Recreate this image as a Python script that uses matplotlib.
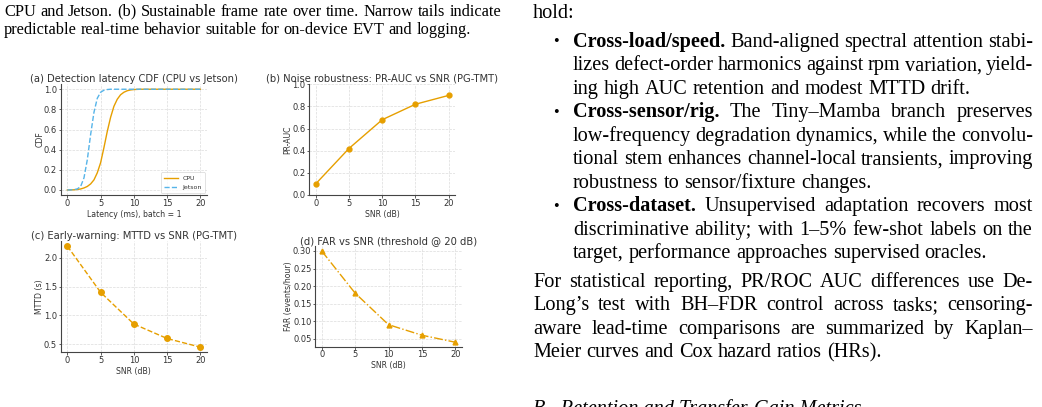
import matplotlib
matplotlib.use("Agg")
import matplotlib.pyplot as plt

W, H = 1042, 407

# ---------------- data ----------------
latency_ms = [0, 0.5, 1, 1.5, 2, 2.5, 3, 3.5, 4, 4.5, 5, 5.5, 6, 6.5, 7, 7.5, 8, 8.5, 9, 9.5, 10, 11, 12, 20]
cdf_cpu = [0, 0.001, 0.002, 0.005, 0.01, 0.02, 0.035, 0.06, 0.10, 0.17, 0.27, 0.42, 0.58, 0.72, 0.83,
           0.90, 0.945, 0.97, 0.985, 0.993, 0.997, 1.0, 1.0, 1.0]
cdf_jetson = [0, 0.001, 0.003, 0.01, 0.035, 0.12, 0.30, 0.55, 0.77, 0.91, 0.97, 0.99, 0.997, 1.0, 1.0,
              1.0, 1.0, 1.0, 1.0, 1.0, 1.0, 1.0, 1.0, 1.0]
snr_db = [0, 5, 10, 15, 20]
pr_auc = [0.10, 0.42, 0.68, 0.82, 0.90]
mttd_s = [2.2, 1.4, 0.85, 0.6, 0.45]
far_per_hour = [0.30, 0.18, 0.09, 0.06, 0.04]

titles = ["(a) Detection latency CDF (CPU vs Jetson)",
          "(b) Noise robustness: PR-AUC vs SNR (PG-TMT)",
          "(c) Early-warning: MTTD vs SNR (PG-TMT)",
          "(d) FAR vs SNR (threshold @ 20 dB)"]

caption_lines = [
    ("CPU and Jetson. (b) Sustainable frame rate over time. Narrow tails indicate", True),
    ("predictable real-time behavior suitable for on-device EVT and logging.", False),
]
body_intro = "hold:"
bullet_lines = [
    ("Cross-load/speed.", "Band-aligned spectral attention stabi-", True),
    (None, "lizes defect-order harmonics against rpm variation, yield-", True),
    (None, "ing high AUC retention and modest MTTD drift.", False),
    ("Cross-sensor/rig.", "The Tiny\u2013Mamba branch preserves", True),
    (None, "low-frequency degradation dynamics, while the convolu-", True),
    (None, "tional stem enhances channel-local transients, improving", True),
    (None, "robustness to sensor/fixture changes.", False),
    ("Cross-dataset.", "Unsupervised adaptation recovers most", True),
    (None, "discriminative ability; with 1\u20135% few-shot labels on the", True),
    (None, "target, performance approaches supervised oracles.", False),
]
para_lines = [
    ("For statistical reporting, PR/ROC AUC differences use De-", True),
    ("Long\u2019s test with BH\u2013FDR control across tasks; censoring-", True),
    ("aware lead-time comparisons are summarized by Kaplan\u2013", True),
    ("Meier curves and Cox hazard ratios (HRs).", False),
]
section_title = "B.  Retention and Transfer-Gain Metrics"

ORANGE = "#E69F00"
BLUE = "#56B4E9"
TXT = "#333333"

fig = plt.figure(figsize=(W / 100, H / 100), dpi=100)
fig.patch.set_facecolor("white")


def add_ax(left, right, top, bottom):
    return fig.add_axes([left / W, 1 - bottom / H, (right - left) / W, (bottom - top) / H])


def style(ax):
    for s in ["top", "right"]:
        ax.spines[s].set_visible(False)
    for s in ["left", "bottom"]:
        ax.spines[s].set_color("#444444")
        ax.spines[s].set_linewidth(0.8)
    ax.grid(True, linestyle="--", linewidth=0.5, color="#dcdcdc")
    ax.set_axisbelow(True)
    ax.tick_params(labelsize=6.0, colors="#444444", labelcolor=TXT, length=1.8, width=0.6, pad=0.8)


TFS = 7.2
LFS = 5.6


def labels(ax, title, xl, yl, ylx):
    ax.set_title(title, fontsize=TFS, color=TXT, pad=1.8)
    ax.set_xlabel(xl, fontsize=LFS, color=TXT, labelpad=1.5)
    ax.set_ylabel(yl, fontsize=LFS, color=TXT)
    ax.yaxis.set_label_coords(ylx, 0.5)


# (a)
axa = add_ax(60.7, 207, 84.2, 195)
axa.plot(latency_ms, cdf_cpu, color=ORANGE, lw=1.0, label="CPU")
axa.plot(latency_ms, cdf_jetson, color=BLUE, lw=1.0, ls="--", label="Jetson")
axa.set_xlim(-1, 21)
axa.set_ylim(-0.05, 1.05)
axa.set_xticks([0, 5, 10, 15, 20])
axa.set_yticks([0, 0.2, 0.4, 0.6, 0.8, 1.0])
style(axa)
labels(axa, titles[0], "Latency (ms), batch = 1", "CDF", (44.5 - 60.7) / 146.3)
leg = axa.legend(loc="lower right", fontsize=4.5, frameon=True, handlelength=2.2,
                 borderpad=0.5, labelspacing=0.6, borderaxespad=0.3)
leg.get_frame().set_linewidth(0.5)
for t in leg.get_texts():
    t.set_color(TXT)

# (b)
axb = add_ax(309, 455.4, 84.3, 195)
axb.plot(snr_db, pr_auc, color=ORANGE, lw=1.0, marker="o", ms=3.5)
axb.set_xlim(-1, 21)
axb.set_ylim(0, 1.0)
axb.set_xticks(snr_db)
style(axb)
labels(axb, titles[1], "SNR (dB)", "PR-AUC", (291.8 - 309) / 146.4)

# (c)
axc = add_ax(60.7, 207, 241.1, 352.2)
axc.plot(snr_db, mttd_s, color=ORANGE, lw=1.0, ls="--", marker="o", ms=4)
axc.set_xlim(-1, 21)
axc.set_ylim(0.3625, 2.2875)
axc.set_xticks(snr_db)
axc.set_yticks([0.5, 1.0, 1.5, 2.0])
style(axc)
labels(axc, titles[2], "SNR (dB)", "MTTD (s)", (43.8 - 60.7) / 146.3)

# (d)
axd = add_ax(315, 462, 246.4, 346.8)
axd.plot(snr_db, far_per_hour, color=ORANGE, lw=1.0, ls="-.", marker="^", ms=3.5)
axd.set_xlim(-1, 21)
axd.set_ylim(0.027, 0.313)
axd.set_xticks(snr_db)
axd.set_yticks([0.05, 0.10, 0.15, 0.20, 0.25, 0.30])
style(axd)
labels(axd, titles[3], "SNR (dB)", "FAR (events/hour)", (293.1 - 315) / 147)

# ---------------- page text ----------------
SERIF = ["Liberation Serif", "DejaVu Serif"]
renderer = fig.canvas.get_renderer()


def width_of(s, size, weight="normal"):
    t = fig.text(0, 0, s, fontsize=size, fontweight=weight, family=SERIF)
    w = t.get_window_extent(renderer).width
    t.remove()
    return w


def place_line(tokens, x0, x1, yb, justify, size):
    widths = [width_of(w, size, wt) for w, wt in tokens]
    if justify and len(tokens) > 1:
        gap = (x1 - x0 - sum(widths)) / (len(tokens) - 1)
    else:
        gap = width_of("a a", size) - 2 * width_of("a", size)
    x = x0
    for (w, wt), ww in zip(tokens, widths):
        fig.text(x / W, 1 - yb / H, w, fontsize=size, fontweight=wt, family=SERIF,
                 ha="left", va="baseline", color="black")
        x += ww + gap


CAP = 11.8
BODY = 14.6

# caption (left column)
cap_y = [15.5, 33.5]
for (line, just), yb in zip(caption_lines, cap_y):
    place_line([(w, "normal") for w in line.split()], 4, 501, yb, just, CAP)

# right column
XL, XR = 533, 1033
XI = 573
fig.text(XL / W, 1 - 17.5 / H, body_intro, fontsize=BODY, family=SERIF, ha="left", va="baseline")
b0, s = 46.7, 23.5
for i, (bold, rest, just) in enumerate(bullet_lines):
    yb = b0 + i * s
    toks = []
    if bold:
        fig.text(556 / W, 1 - (yb - 4.5) / H, "\u2022", fontsize=BODY * 0.8, family=SERIF,
                 ha="center", va="center")
        toks += [(w, "bold") for w in bold.split()]
    toks += [(w, "normal") for w in rest.split()]
    place_line(toks, XI, XR, yb, just, BODY)

p0 = b0 + 9 * s + 28.4
for i, (line, just) in enumerate(para_lines):
    place_line([(w, "normal") for w in line.split()], XL, XR, p0 + i * s, just, BODY)

fig.text(XL / W, 1 - 414 / H, section_title, fontsize=BODY, family=SERIF, fontstyle="italic",
         ha="left", va="baseline")

fig.savefig("out.png", dpi=100)
